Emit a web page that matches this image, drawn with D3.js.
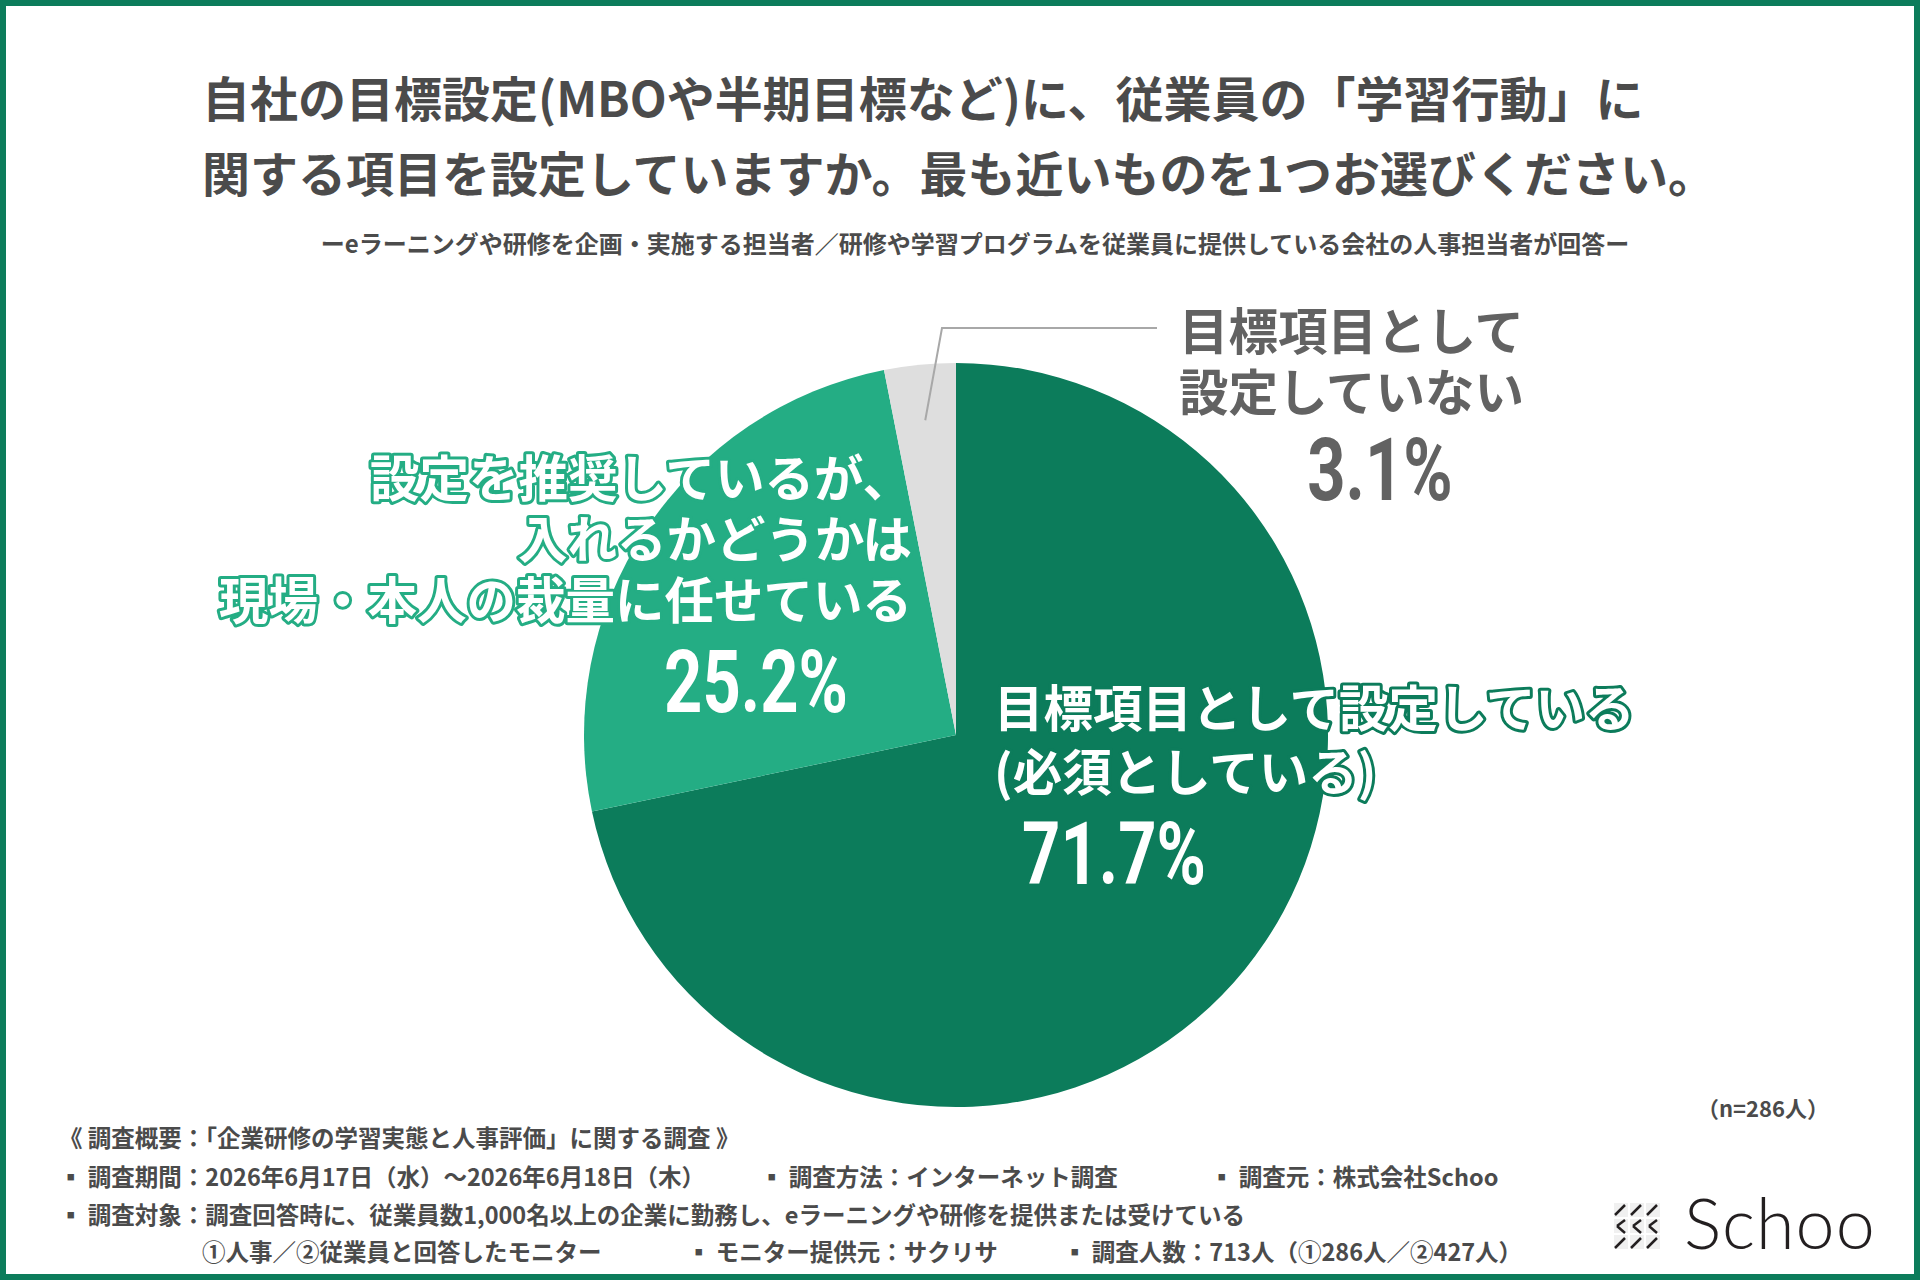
<!DOCTYPE html>
<html>
<head>
<meta charset="utf-8">
<script src="https://cdn.jsdelivr.net/npm/d3@7"></script>
<style>
  html, body { margin: 0; padding: 0; background: #fff; }
  svg { display: block; }
  text { font-family: "Noto Sans CJK JP", "Noto Sans", sans-serif; }
</style>
</head>
<body>
<div id="chart"></div>
<script>
(function() {
    'use strict';

    // data
    var categories = ['目標項目として設定している(必須としている)',
                      '設定を推奨しているが、入れるかどうかは現場・本人の裁量に任せている',
                      '目標項目として設定していない'];
    var values = [71.7, 25.2, 3.1];
    var labelLines = [
        ['目標項目として設定している', '(必須としている)'],
        ['設定を推奨しているが、', '入れるかどうかは', '現場・本人の裁量に任せている'],
        ['目標項目として', '設定していない']
    ];
    var colors = ['#0c7c5b', '#24ad84', '#dedede'];

    var titleLines = ['自社の目標設定(MBOや半期目標など)に、従業員の「学習行動」に',
                      '関する項目を設定していますか。最も近いものを1つお選びください。'];
    var subtitle = 'ーeラーニングや研修を企画・実施する担当者／研修や学習プログラムを従業員に提供している会社の人事担当者が回答ー';
    var sampleNote = '（n=286人）';
    var footerRows = [
        [{x: 59, t: '《 調査概要：「企業研修の学習実態と人事評価」に関する調査 》'}],
        [{x: 59, t: '▪ 調査期間：2026年6月17日（水）～2026年6月18日（木）'},
         {x: 760, t: '▪ 調査方法：インターネット調査'},
         {x: 1210, t: '▪ 調査元：株式会社Schoo'}],
        [{x: 59, t: '▪ 調査対象：調査回答時に、従業員数1,000名以上の企業に勤務し、eラーニングや研修を提供または受けている'}],
        [{x: 202, t: '①人事／②従業員と回答したモニター'},
         {x: 687, t: '▪ モニター提供元：サクリサ'},
         {x: 1063, t: '▪ 調査人数：713人（①286人／②427人）'}]
    ];

    var width = 1920, height = 1280;
    var cx = 956, cy = 735, radius = 372;

    var svg = d3.select('#chart').append('svg')
        .attr('width', width)
        .attr('height', height);

    // frame
    svg.append('rect')
        .attr('x', 3).attr('y', 3)
        .attr('width', width - 6).attr('height', height - 6)
        .attr('fill', '#fff')
        .attr('stroke', '#0c7c5b')
        .attr('stroke-width', 6);

    // title
    svg.selectAll('text.title')
        .data(titleLines)
        .enter()
        .append('text')
        .attr('class', 'title')
        .attr('x', 202)
        .attr('y', function(d, i) { return 117 + i * 75; })
        .attr('font-size', 48)
        .attr('font-weight', 700)
        .attr('fill', '#4b4b4b')
        .text(function(d) { return d; });

    svg.append('text')
        .attr('x', 975)
        .attr('y', 253)
        .attr('text-anchor', 'middle')
        .attr('font-size', 24)
        .attr('font-weight', 700)
        .attr('fill', '#4b4b4b')
        .text(subtitle);

    // pie
    var pie = d3.pie().sort(null).value(function(d) { return d; });
    var arc = d3.arc().innerRadius(0).outerRadius(radius);
    var arcs = pie(values);

    var g = svg.append('g').attr('transform', 'translate(' + cx + ',' + cy + ')');
    g.selectAll('path')
        .data(arcs)
        .enter()
        .append('path')
        .attr('d', arc)
        .attr('fill', function(d, i) { return colors[i]; });

    // leader line for the small slice
    var inner = d3.arc().innerRadius(radius * 0.85).outerRadius(radius * 0.85);
    var p0 = inner.centroid(arcs[2]);
    svg.append('polyline')
        .attr('points', [[cx + p0[0], cy + p0[1]], [942, 328], [1157, 328]].join(' '))
        .attr('fill', 'none')
        .attr('stroke', '#a8a8a8')
        .attr('stroke-width', 2);

    // labels
    var labelLayout = [
        {x: 994, y: 727, anchor: 'start', stroke: colors[0], fill: '#fff', pctX: 1114, pctY: 884, pctFill: '#fff'},
        {x: 912, y: 497, anchor: 'end', stroke: colors[1], fill: '#fff', pctX: 756, pctY: 712, pctFill: '#fff'},
        {x: 1179, y: 350, anchor: 'start', stroke: 'none', fill: '#626262', pctX: 1380, pctY: 500, pctFill: '#626262'}
    ];

    labelLines.forEach(function(lines, i) {
        var L = labelLayout[i];
        var t = svg.append('text')
            .attr('text-anchor', L.anchor)
            .attr('font-size', 49.5)
            .attr('font-weight', 700)
            .attr('fill', L.fill)
            .attr('stroke', L.stroke)
            .attr('stroke-width', 6)
            .attr('stroke-linejoin', 'round')
            .style('paint-order', 'stroke');
        lines.forEach(function(line, j) {
            t.append('tspan')
                .attr('x', L.x)
                .attr('y', L.y + j * (i === 0 ? 64 : 61))
                .text(line);
        });

        svg.append('text')
            .attr('transform', 'translate(' + L.pctX + ',' + L.pctY + ') scale(0.76,1)')
            .attr('text-anchor', 'middle')
            .attr('font-size', 88)
            .attr('font-weight', 700)
            .attr('fill', L.pctFill)
            .style('font-family', 'Roboto, "Liberation Sans", sans-serif')
            .text(values[i].toFixed(1) + '%');
    });

    // sample size
    svg.append('text')
        .attr('x', 1763)
        .attr('y', 1117)
        .attr('text-anchor', 'middle')
        .attr('font-size', 22)
        .attr('font-weight', 700)
        .attr('fill', '#4b4b4b')
        .text(sampleNote);

    // footer
    var rowY = [1147, 1186, 1224, 1261];
    footerRows.forEach(function(row, i) {
        row.forEach(function(cell) {
            svg.append('text')
                .attr('x', cell.x)
                .attr('y', rowY[i])
                .attr('font-size', 23.5)
                .attr('font-weight', 700)
                .attr('fill', '#4b4b4b')
                .text(cell.t);
        });
    });

    // Schoo logo
    var logo = svg.append('g').attr('transform', 'translate(1614,1203)');
    logo.selectAll('rect')
        .data([0, 1, 2, 3, 4, 5, 6, 7, 8])
        .enter()
        .append('rect')
        .attr('x', function(d) { return (d % 3) * 16; })
        .attr('y', function(d) { return Math.floor(d / 3) * 16; })
        .attr('width', 14).attr('height', 14)
        .attr('fill', '#f0f0f0');
    var marks = [
        [[1, 12], [11, 2]], [[17, 12], [27, 2]], [[33, 12], [43, 2]],
        [[11, 17], [3, 23]], [[3, 23], [11, 30]],
        [[27, 17], [19, 23]], [[19, 23], [27, 30]],
        [[43, 17], [35, 23]], [[35, 23], [43, 30]],
        [[1, 45], [11, 35]], [[17, 45], [27, 35]], [[33, 45], [43, 35]]
    ];
    logo.selectAll('line')
        .data(marks)
        .enter()
        .append('line')
        .attr('x1', function(d) { return d[0][0]; })
        .attr('y1', function(d) { return d[0][1]; })
        .attr('x2', function(d) { return d[1][0]; })
        .attr('y2', function(d) { return d[1][1]; })
        .attr('stroke', '#231f20')
        .attr('stroke-width', 2.5);
    svg.append('text')
        .attr('x', 1684)
        .attr('y', 1249)
        .attr('font-size', 70)
        .attr('font-weight', 300)
        .attr('fill', '#231f20')
        .attr('letter-spacing', 1)
        .style('font-family', 'Lato, "Open Sans", sans-serif')
        .text('Schoo');
})();
</script>
</body>
</html>
